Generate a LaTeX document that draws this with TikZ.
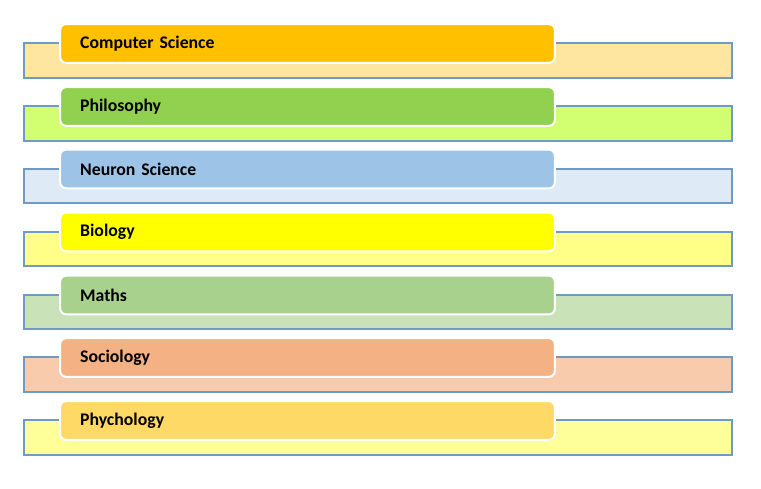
\documentclass[tikz,border=0pt]{standalone}
\usepackage{fontspec}
\setmainfont{Carlito}
\usetikzlibrary{positioning}
\definecolor{edgeblue}{HTML}{6F9AC4}
\definecolor{csfront}{HTML}{FFC000}
\definecolor{csback}{HTML}{FEE5A0}
\definecolor{phfront}{HTML}{92D050}
\definecolor{phback}{HTML}{D2FF72}
\definecolor{nsfront}{HTML}{9DC3E6}
\definecolor{nsback}{HTML}{DEEBF7}
\definecolor{bifront}{HTML}{FFFF00}
\definecolor{biback}{HTML}{FFFF88}
\definecolor{mafront}{HTML}{A9D18E}
\definecolor{maback}{HTML}{C9E2B8}
\definecolor{sofront}{HTML}{F4B183}
\definecolor{soback}{HTML}{F8CBAD}
\definecolor{psfront}{HTML}{FFD966}
\definecolor{psback}{HTML}{FFFF99}
\tikzset{
    back/.style =   {rectangle,
                    draw=edgeblue,
                    line width=1.5pt,
                    minimum width=531pt,
                    minimum height=26pt,
                    inner sep=0pt},
    front/.style =  {rectangle,
                    rounded corners=4.5pt,
                    draw=white,
                    line width=1.5pt,
                    text=black,
                    font=\fontsize{13.3}{15}\selectfont\bfseries,
                    minimum width=371pt,
                    minimum height=29pt,
                    text width=341pt,
                    inner xsep=15pt,
                    align=left}}

\begin{document}
\begin{tikzpicture}[x=0.75pt,y=-0.75pt]
                \useasboundingbox (0,0) rectangle (761,489);
                \node[back,fill=csback]   (cs back) at (378,60.5)  {};
                \node[front,fill=csfront] (cs)      at (307.5,43.5) {Computer Science};
                \node[back,fill=phback]   (ph back) at (378,123.5) {};
                \node[front,fill=phfront] (ph)      at (307.5,106.5) {Philosophy};
                \node[back,fill=nsback]   (ns back) at (378,186)   {};
                \node[front,fill=nsfront] (ns)      at (307.5,169)  {Neuron Science};
                \node[back,fill=biback]   (bi back) at (378,249)   {};
                \node[front,fill=bifront] (bi)      at (307.5,232)  {Biology};
                \node[back,fill=maback]   (ma back) at (378,312)   {};
                \node[front,fill=mafront] (ma)      at (307.5,295)  {Maths};
                \node[back,fill=soback]   (so back) at (378,374.5) {};
                \node[front,fill=sofront] (so)      at (307.5,357.5) {Sociology};
                \node[back,fill=psback]   (ps back) at (378,437.5) {};
                \node[front,fill=psfront] (ps)      at (307.5,420.5) {Phychology};
        \end{tikzpicture}
\end{document}
